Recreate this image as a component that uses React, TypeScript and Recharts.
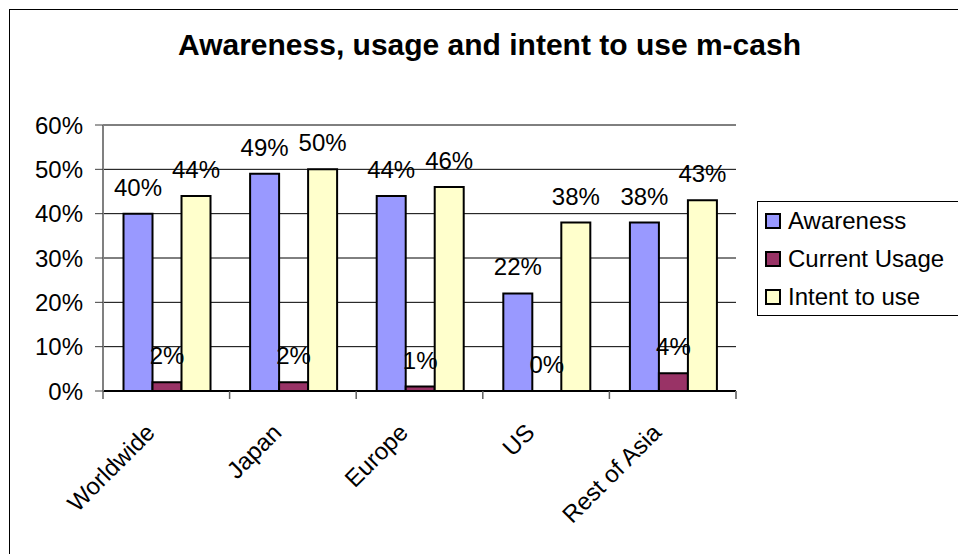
import { BarChart, Bar, XAxis, YAxis, CartesianGrid, LabelList } from 'recharts';

const FONT = '"Liberation Sans", Arial, sans-serif';

const regions = ['Worldwide', 'Japan', 'Europe', 'US', 'Rest of Asia'];
const awareness = [40, 49, 44, 22, 38];
const currentUsage = [2, 2, 1, 0, 4];
const intentToUse = [44, 50, 46, 38, 43];
const percentTicks = [0, 10, 20, 30, 40, 50, 60];

const series = [
  { key: 'awareness', name: 'Awareness', color: '#9999FF' },
  { key: 'usage', name: 'Current Usage', color: '#993366' },
  { key: 'intent', name: 'Intent to use', color: '#FFFFCC' },
];

const data = regions.map((region, i) => ({
  region,
  awareness: awareness[i],
  usage: currentUsage[i],
  intent: intentToUse[i],
}));

const pct = (v: any) => `${v}%`;

// a zero value still needs a (flat) rectangle so its label gets drawn
const keepZero = (v: any) => (v === 0 ? 0.01 : 0);

// category labels slanted at -45deg, plus tick marks on the category boundaries
function RegionTick(props: any) {
  const { x, y, payload, index, visibleTicksCount } = props;
  const half = payload?.offset || 63.3;
  const axisY = y - 10;
  const tx = x - 10;
  const ty = y + 33;
  return (
    <g>
      <line x1={x - half} x2={x - half} y1={axisY} y2={axisY + 8} stroke="#606060" strokeWidth={1.5} />
      {index === visibleTicksCount - 1 && (
        <line x1={x + half} x2={x + half} y1={axisY} y2={axisY + 8} stroke="#808080" strokeWidth={2} />
      )}
      <text
        x={tx}
        y={ty}
        transform={`rotate(-45 ${tx} ${ty})`}
        textAnchor="end"
        fontSize={24}
        fontFamily={FONT}
        fill="#000"
      >
        {payload.value}
      </text>
    </g>
  );
}

function LegendBox() {
  return (
    <div
      style={{
        position: 'absolute',
        left: 757,
        top: 201,
        width: 250,
        height: 115,
        boxSizing: 'border-box',
        border: '1px solid #000',
        background: '#fff',
        fontFamily: FONT,
        fontSize: 24,
        color: '#000',
      }}
    >
      {series.map((s) => (
        <div key={s.key} style={{ display: 'flex', alignItems: 'center', height: 38, paddingLeft: 7 }}>
          <span
            style={{
              width: 12,
              height: 12,
              background: s.color,
              border: '2px solid #000',
              marginRight: 7,
              flex: 'none',
            }}
          />
          <span>{s.name}</span>
        </div>
      ))}
    </div>
  );
}

export default function App() {
  return (
    <div
      style={{
        position: 'absolute',
        left: 0,
        top: 0,
        width: 958,
        height: 554,
        overflow: 'hidden',
        background: '#fff',
      }}
    >
      <div
        style={{
          position: 'absolute',
          left: 9,
          top: 9,
          width: 1000,
          height: 600,
          border: '1px solid #000',
        }}
      />
      <svg width={958} height={80} style={{ position: 'absolute', left: 0, top: 0 }}>
        <text x={489.5} y={55} textAnchor="middle" fontFamily={FONT} fontWeight="bold" fontSize={30} fill="#000">
          Awareness, usage and intent to use m-cash
        </text>
      </svg>
      <div style={{ position: 'absolute', left: 0, top: 0 }}>
        <BarChart
          width={958}
          height={554}
          data={data}
          margin={{ top: 125, right: 222, bottom: 0, left: 0 }}
          barCategoryGap="16.2%"
          barGap={0}
        >
          <CartesianGrid vertical={false} stroke="#000" strokeWidth={1} />
          <XAxis
            dataKey="region"
            height={163}
            interval={0}
            tickSize={8}
            tickMargin={2}
            tickLine={false}
            axisLine={{ stroke: '#000', strokeWidth: 2 }}
            tick={<RegionTick />}
          />
          <XAxis
            xAxisId="frame"
            dataKey="region"
            orientation="top"
            height={0}
            tick={false}
            tickLine={false}
            axisLine={{ stroke: '#808080', strokeWidth: 2 }}
          />
          <YAxis
            domain={[0, 60]}
            ticks={percentTicks}
            interval={0}
            tickFormatter={pct}
            width={103}
            tickSize={8}
            tickMargin={12}
            axisLine={{ stroke: '#808080', strokeWidth: 2 }}
            tickLine={{ stroke: '#404040', strokeWidth: 1 }}
            tick={{ fontSize: 24, fill: '#000', fontFamily: FONT }}
          />
          <YAxis
            yAxisId="frame"
            orientation="right"
            domain={[0, 60]}
            width={0}
            tick={false}
            tickLine={false}
            axisLine={{ stroke: '#808080', strokeWidth: 2 }}
          />
          {series.map((s) => (
            <Bar
              key={s.key}
              dataKey={s.key}
              name={s.name}
              fill={s.color}
              stroke="#000"
              strokeWidth={2}
              minPointSize={keepZero}
              isAnimationActive={false}
            >
              <LabelList
                dataKey={s.key}
                position="top"
                offset={18}
                formatter={pct}
                fill="#000"
                fontSize={24}
                fontFamily={FONT}
              />
            </Bar>
          ))}
        </BarChart>
      </div>
      <LegendBox />
    </div>
  );
}
